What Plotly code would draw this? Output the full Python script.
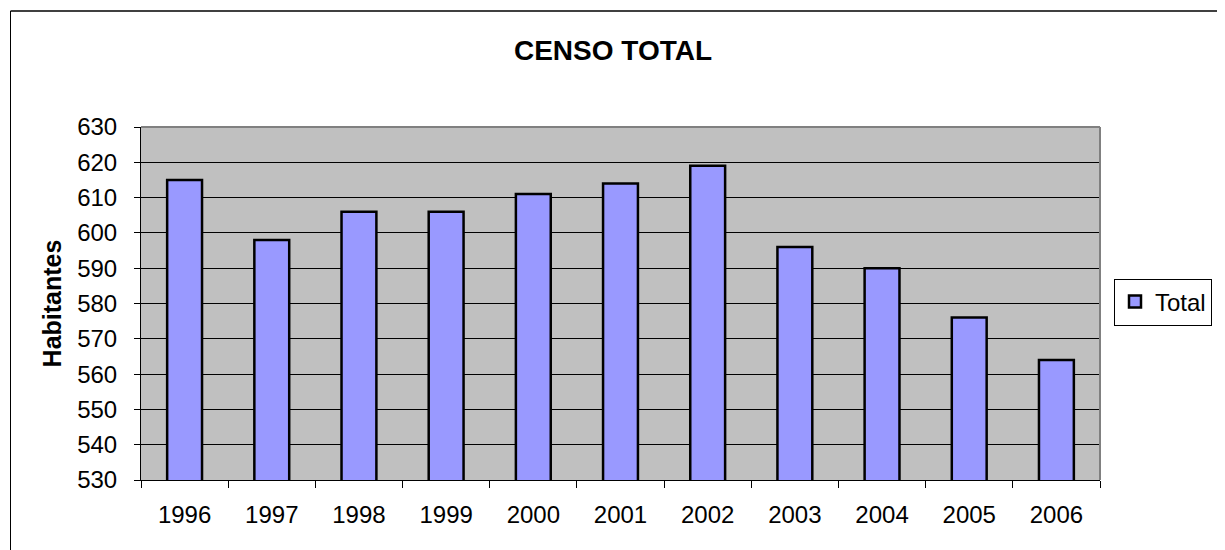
import plotly.graph_objects as go

years = ["1996", "1997", "1998", "1999", "2000", "2001", "2002", "2003", "2004", "2005", "2006"]
total = [615, 598, 606, 606, 611, 614, 619, 596, 590, 576, 564]
y_ticks = [530, 540, 550, 560, 570, 580, 590, 600, 610, 620, 630]

OFF = 8  # page body margin
W, H = 1225 - OFF, 550 - OFF
L, R, T, B = 141 - OFF, 1100 - OFF, 127 - OFF, 480 - OFF  # plot area in figure pixels

def px(x):
    return (x - OFF - L) / (R - L)

def py(y):
    return (B - (y - OFF)) / (B - T)

fig = go.Figure()
fig.add_trace(go.Bar(
    x=years, y=total, name="Total",
    marker=dict(color="#9999FF", line=dict(color="black", width=2.5)),
    showlegend=True,
))

fig.update_layout(
    width=W, height=H,
    margin=dict(l=L, r=W - R, t=T, b=H - B, pad=0, autoexpand=False),
    paper_bgcolor="white",
    plot_bgcolor="#C0C0C0",
    font=dict(family="Liberation Sans, Arial, sans-serif", color="black", size=24),
    bargap=0.6,
    title=dict(text="<b>CENSO TOTAL</b>", x=(613 - OFF) / W, xanchor="center",
               y=1 - (50 - OFF) / H, yanchor="middle", yref="container",
               font=dict(size=28, color="black")),
    legend=dict(x=px(1114), xanchor="left", y=py(302), yanchor="middle",
                bordercolor="black", borderwidth=1, bgcolor="white",
                font=dict(size=24), itemwidth=30, tracegroupgap=0),
    xaxis=dict(
        type="category", tickson="boundaries", ticks="outside", ticklen=7,
        tickcolor="black", showline=True, linecolor="black", linewidth=1,
        showgrid=False, tickfont=dict(size=24), ticklabelstandoff=13,
    ),
    yaxis=dict(
        range=[530, 630], tickvals=y_ticks, ticks="outside", ticklen=6,
        tickcolor="black", showline=True, linecolor="black", linewidth=1,
        showgrid=True, gridcolor="black", gridwidth=1, zeroline=False,
        tickfont=dict(size=24), ticklabelstandoff=12,
        title=dict(text="<b>Habitantes</b>", font=dict(size=25), standoff=8),
    ),
)

# plot area outline (grey top/right)
fig.add_shape(type="line", xref="paper", yref="paper", x0=0, x1=1, y0=1, y1=1,
              line=dict(color="#808080", width=2), layer="above")
fig.add_shape(type="line", xref="paper", yref="paper", x0=1, x1=1, y0=0, y1=1,
              line=dict(color="#808080", width=2), layer="above")

# outer chart border
fig.add_shape(type="line", xref="paper", yref="paper", x0=px(10.5), x1=px(10.5),
              y0=py(11), y1=py(560), line=dict(color="black", width=1))
fig.add_shape(type="line", xref="paper", yref="paper", x0=px(10.5), x1=px(1224),
              y0=py(11), y1=py(11), line=dict(color="black", width=1.5))
fig.add_shape(type="line", xref="paper", yref="paper", x0=px(1224), x1=px(1224),
              y0=py(11), y1=py(560), line=dict(color="#808080", width=1.5))

fig.write_html("out.html")
